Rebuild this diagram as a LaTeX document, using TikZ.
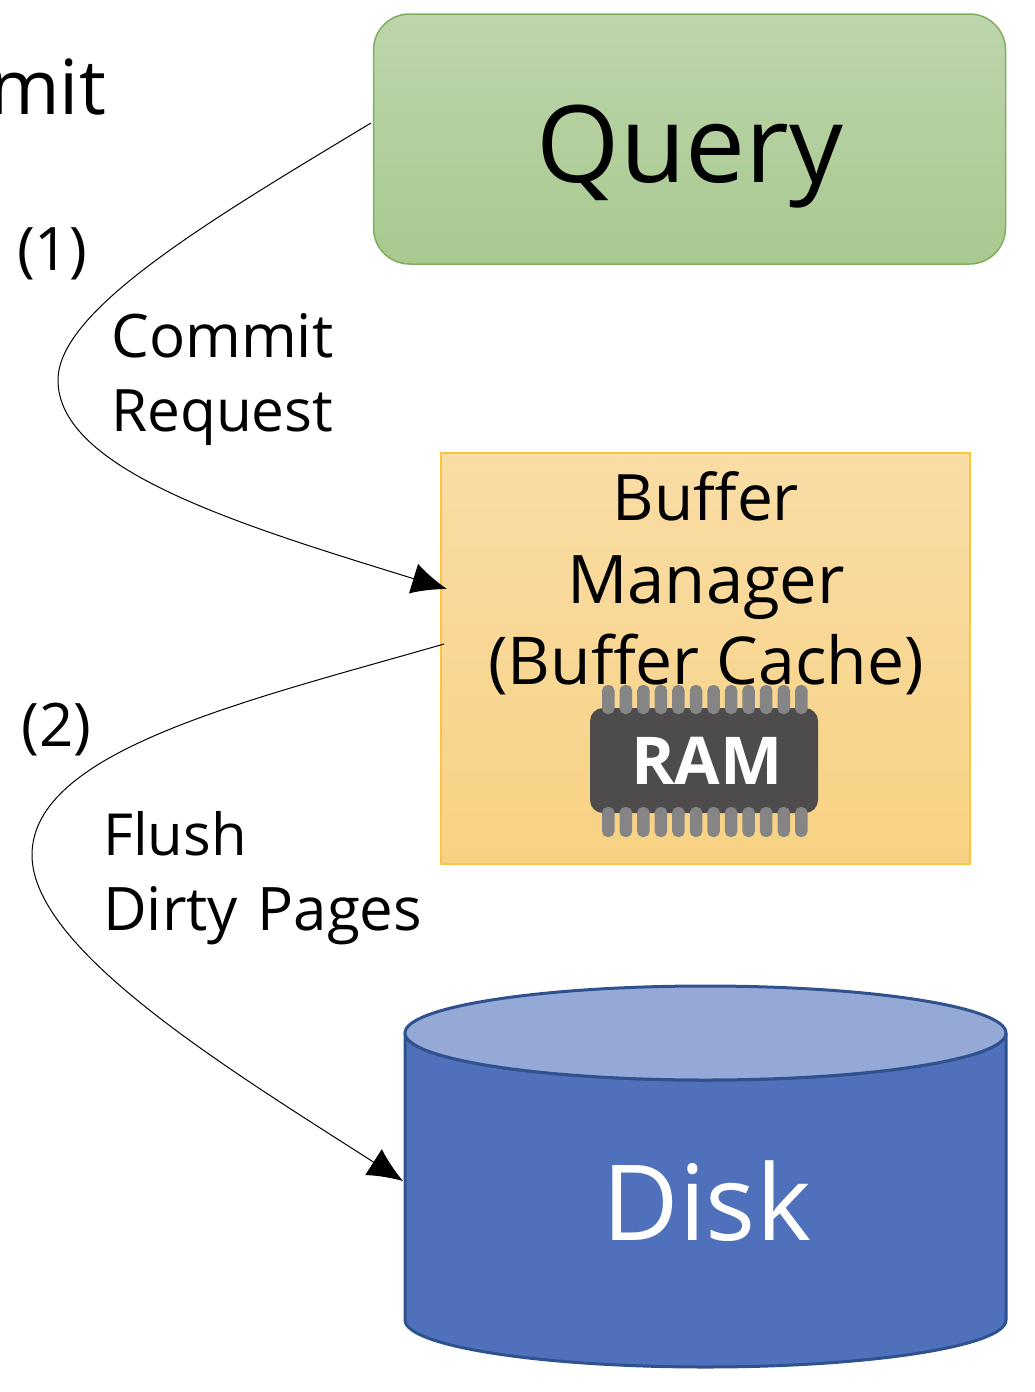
\documentclass[tikz,border=0pt]{standalone}
\usepackage{fontspec}
\setmainfont{Open Sans}
\usetikzlibrary{arrows.meta}
\definecolor{qtop}{HTML}{BDD5AC}
\definecolor{qbot}{HTML}{A8C98F}
\definecolor{qedge}{HTML}{7FAF5E}
\definecolor{btop}{HTML}{F9DDA6}
\definecolor{bbot}{HTML}{F8D283}
\definecolor{bedge}{HTML}{FBC544}
\definecolor{dfill}{HTML}{4F71BC}
\definecolor{dtop}{HTML}{95A9D7}
\definecolor{dedge}{HTML}{2F528F}
\definecolor{chipcol}{HTML}{4D4B4B}
\definecolor{pincol}{HTML}{858585}
\tikzset{
  lab/.style={inner sep=0pt,anchor=base west,align=left},
  flow/.style={draw=black,line width=1pt,-{Latex[length=35pt,width=31pt]}}
}
\begin{document}
\begin{tikzpicture}[x=1pt,y=-1pt]
\useasboundingbox (0,0) rectangle (1034,1392);
% Query
\node[draw=qedge,line width=1.5pt,top color=qtop,bottom color=qbot,rounded corners=36pt,minimum width=632pt,minimum height=250pt,inner sep=0pt] (query) at (689.5,139) {};
\node[font=\fontsize{107}{117}\selectfont,anchor=base] (qt) at (690,182) {Query};
% Buffer
\node[draw=bedge,line width=1.5pt,top color=btop,bottom color=bbot,minimum width=529pt,minimum height=411pt,inner sep=0pt] (buffer) at (705.5,658.5) {};
\node[font=\fontsize{64}{82}\selectfont,anchor=base] (b1) at (706,520) {Buffer};
\node[font=\fontsize{67}{82}\selectfont,anchor=base] (b2) at (706,603) {Manager};
\node[font=\fontsize{66}{82}\selectfont,anchor=base] (b3) at (706,684) {(Buffer Cache)};
% RAM chip
\node[fill=chipcol,rounded corners=13pt,minimum width=228pt,minimum height=105pt,inner sep=0pt] (chip) at (704,760.5) {};
\foreach \i in {0,...,11}{
  \fill[pincol,rounded corners=5.5pt] ({602+\i*17.55},685) rectangle ++(12.5,29);
  \fill[pincol,rounded corners=5.5pt] ({602+\i*17.55},807) rectangle ++(12.5,30);
}
\node[font=\fontsize{66}{74}\selectfont\bfseries,text=white,anchor=base] (ram) at (707,784) {RAM};
% Disk
\path[fill=dfill,draw=dedge,line width=3pt] (405,1033) -- (405,1320) arc[start angle=180,end angle=0,x radius=300.5,y radius=47] -- (1006,1033) arc[start angle=0,end angle=180,x radius=300.5,y radius=47] -- cycle;
\path[fill=dtop,draw=dedge,line width=3pt] (705.5,1033) ellipse[x radius=300.5,y radius=47];
\coordinate (diskw) at (403,1181);
\node[font=\fontsize{105}{115}\selectfont,text=white,anchor=base] (dt) at (707,1240) {Disk};
% Texts
\node[lab,font=\fontsize{76}{85}\selectfont] (mit) at (-11,114) {mit};
\node[lab,font=\fontsize{60}{66}\selectfont] (n1) at (17,270) {(1)};
\node[lab,font=\fontsize{60}{66}\selectfont] (n2) at (21.5,746) {(2)};
\node[lab,font=\fontsize{60}{70}\selectfont] (c1) at (111,357) {Commit};
\node[lab,font=\fontsize{58.5}{70}\selectfont] (c2) at (111,431.5) {Request};
\node[lab,font=\fontsize{58}{70}\selectfont] (f1) at (103,855) {Flush};
\node[lab,font=\fontsize{60}{70}\selectfont] (f2) at (103,930) {Dirty\hspace{4pt} Pages};
% Connectors
\coordinate (qw) at (371,123);
\coordinate (bw1) at (447,589);
\coordinate (bw2) at (444,644);
\draw[flow] (qw) .. controls (210,220) and (58,310) .. (58,380) .. controls (58,470) and (240,525) .. (bw1);
\draw[flow] (bw2) .. controls (250,700) and (32,750) .. (32,855) .. controls (32,950) and (230,1070) .. (diskw);
\end{tikzpicture}
\end{document}
